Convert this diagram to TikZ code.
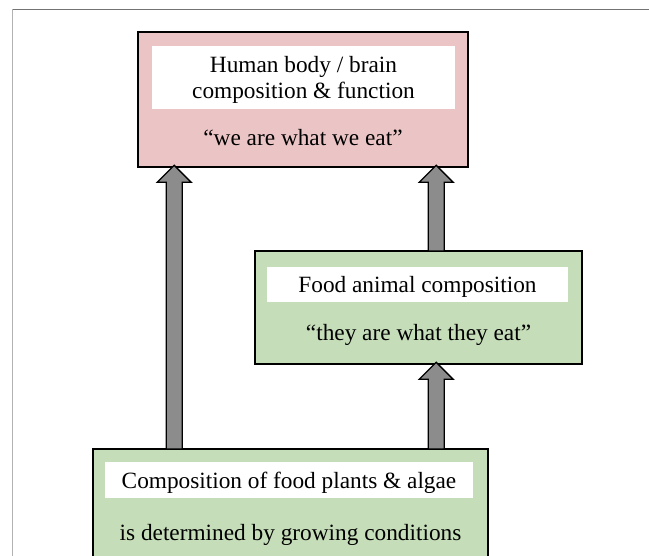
\documentclass[tikz,border=0pt]{standalone}
\usepackage{fontspec}
\setmainfont{Liberation Serif}
\usetikzlibrary{calc}

\definecolor{boxpink}{HTML}{EBC5C5}
\definecolor{boxgreen}{HTML}{C5DDB8}
\definecolor{arrowgray}{HTML}{8C8C8C}

\tikzset{
	outerbox/.style={draw=black, line width=1.6pt, inner sep=0pt},
	whitebox/.style={fill=white, inner sep=0pt, align=center, text depth=0pt, font=\fontsize{23.3}{25.5}\selectfont},
	quote/.style={inner sep=0pt, yshift=-2.5pt, font=\fontsize{23.3}{25.5}\selectfont},
	blockarrow/.style={draw=black, fill=arrowgray, line width=1.4pt, line join=miter,
		to path={let \p1=(\tikztostart), \p2=(\tikztotarget) in
			(\x1-8pt,\y1) -- (\x1-8pt,\y2-17pt) -- (\x1-17pt,\y2-17pt) -- (\x1,\y2)
			-- (\x1+17pt,\y2-17pt) -- (\x1+8pt,\y2-17pt) -- (\x1+8pt,\y1) -- cycle}}
}

\begin{document}
\begin{tikzpicture}[x=1pt, y=-1pt]
		\useasboundingbox (0,0) rectangle (649,556);
		\clip (0,0) rectangle (649,556);

		% frame
		\draw[black!55, line width=0.9pt] (12,9.5) -- (660,9.5);
		\draw[black!30, line width=0.9pt] (12,9.5) -- (12,570);

		% boxes
		\node[outerbox, fill=boxpink, minimum width=330pt, minimum height=135pt] (human) at (303,99.5) {};
		\node[whitebox, minimum width=303pt, minimum height=63pt] (humantitle) at (303.5,77.5) {Human body / brain\\composition \& function};
		\node[quote] (humanquote) at (303,135) {``we are what we eat''};

		\node[outerbox, fill=boxgreen, minimum width=327pt, minimum height=113pt] (animal) at (418.5,307.5) {};
		\node[whitebox, minimum width=301pt, minimum height=35pt] (animaltitle) at (417.5,284.5) {Food animal composition};
		\node[quote] (animalquote) at (418.5,332) {``they are what they eat''};

		\node[outerbox, fill=boxgreen, minimum width=395pt, minimum height=160pt] (plants) at (290.5,529) {};
		\node[whitebox, minimum width=368pt, minimum height=36pt] (plantstitle) at (289,480) {Composition of food plants \& algae};
		\node[quote] (plantsquote) at (290.5,532) {is determined by growing conditions};

		% arrow ends
		\coordinate (a1) at ([xshift=82pt]plants.north west);
		\coordinate (a2) at (a1 |- human.south);
		\coordinate (b1) at ([xshift=344pt]plants.north west);
		\coordinate (b2) at (b1 |- animal.south);
		\coordinate (c1) at (b1 |- animal.north);
		\coordinate (c2) at (b1 |- human.south);

		\draw[blockarrow] ([yshift=-0.8pt]a1) to ([yshift=2.5pt]a2);
		\draw[blockarrow] ([yshift=-0.8pt]b1) to ([yshift=2.5pt]b2);
		\draw[blockarrow] ([yshift=-0.8pt]c1) to ([yshift=2.5pt]c2);
	\end{tikzpicture}
\end{document}
